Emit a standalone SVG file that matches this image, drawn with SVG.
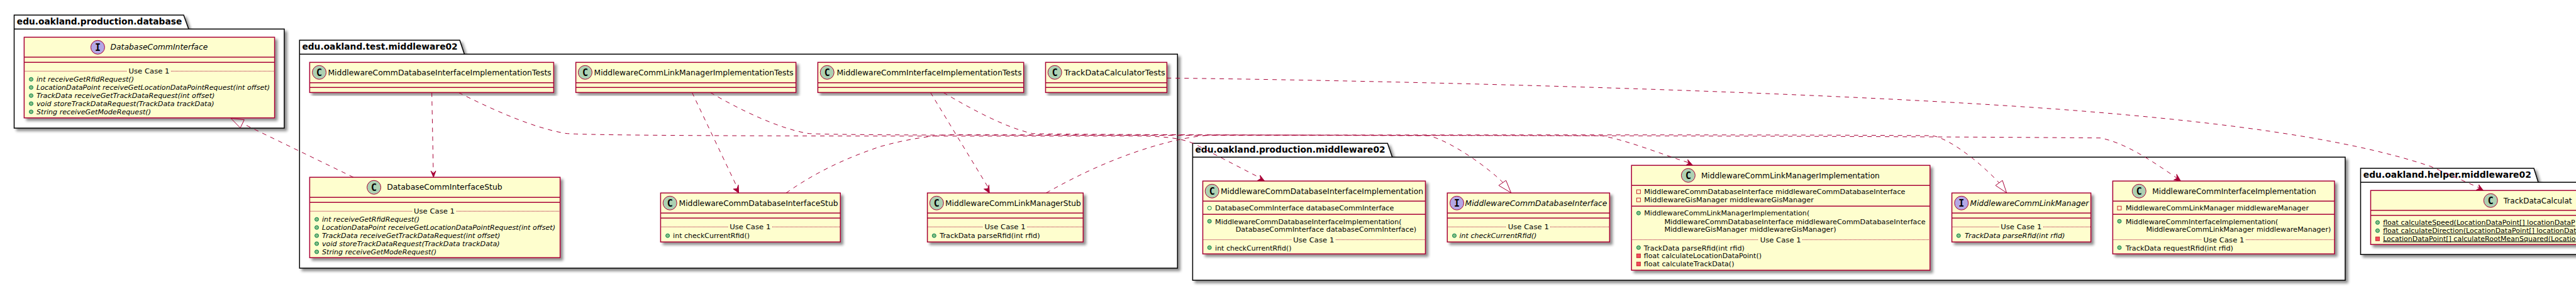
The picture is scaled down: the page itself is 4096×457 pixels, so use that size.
<svg xmlns="http://www.w3.org/2000/svg" width="4096" height="457" viewBox="0 0 4096 457">
<defs>
<filter id="sh" x="-5%" y="-5%" width="110%" height="115%"><feGaussianBlur in="SourceAlpha" stdDeviation="2" result="b"/><feOffset in="b" dx="4" dy="4" result="o"/><feComponentTransfer in="o" result="g"><feFuncA type="linear" slope="0.45"/></feComponentTransfer><feMerge><feMergeNode in="g"/><feMergeNode in="SourceGraphic"/></feMerge></filter>
</defs>
<style>
text{font-family:"DejaVu Sans",sans-serif;fill:#000}
.p{font-size:14px;font-weight:700}
.t{font-size:12px}
.m{font-size:11px}
.i{font-style:italic}
.u{text-decoration:underline}
.pk{fill:#fff;stroke:#000;stroke-width:1.5;filter:url(#sh)}
.pl{fill:none;stroke:#000;stroke-width:1.5}
.b{fill:#FEFECE;stroke:#A80036;stroke-width:1.5;filter:url(#sh)}
.s{stroke:#A80036;stroke-width:1.5}
.d{stroke:#A80036;stroke-width:1;stroke-dasharray:1,1}
.cc{fill:#ADD1B2;stroke:#A80036;stroke-width:1}
.ci{fill:#B4A7E5;stroke:#A80036;stroke-width:1}
.l{font-family:"DejaVu Sans Mono","Liberation Mono",monospace;font-size:15px;font-weight:700;text-anchor:middle}
.g{fill:#84BE84;stroke:#038048;stroke-width:1}
.go{fill:none;stroke:#038048;stroke-width:1}
.r{fill:#F24D5C;stroke:#C82930;stroke-width:1}
.ro{fill:none;stroke:#C82930;stroke-width:1}
.c{fill:none;stroke:#A80036;stroke-width:1;stroke-dasharray:7,7}
.a{fill:#A80036;stroke:#A80036;stroke-width:1}
.o{fill:none;stroke:#A80036;stroke-width:1}
</style>
<g id="pkg-database"><path class="pk" d="M22.5,24H292L300,46.3H452V204H22.5Z"/><path class="pl" d="M22.5,46.3H300"/><text class="p" x="26.8" y="39" textLength="262.5" lengthAdjust="spacingAndGlyphs">edu.oakland.production.database</text></g>
<g id="pkg-test"><path class="pk" d="M476.3,64H731L738.4,86.3H1872.3V427H476.3Z"/><path class="pl" d="M476.3,86.3H738.4"/><text class="p" x="480.4" y="79" textLength="247.3" lengthAdjust="spacingAndGlyphs">edu.oakland.test.middleware02</text></g>
<g id="pkg-production"><path class="pk" d="M1896.4,228.3H2206.3L2213.8,250.3H3729V446.3H1896.4Z"/><path class="pl" d="M1896.4,250.3H2213.8"/><text class="p" x="1900.4" y="243" textLength="302.3" lengthAdjust="spacingAndGlyphs">edu.oakland.production.middleware02</text></g>
<g id="pkg-helper"><path class="pk" d="M3753.5,268H4029L4036,290.3H4120V405.3H3753.5Z"/><path class="pl" d="M3753.5,290.3H4036"/><text class="p" x="3757.7" y="283" textLength="267.2" lengthAdjust="spacingAndGlyphs">edu.oakland.helper.middleware02</text></g>

<g id="DatabaseCommInterface"><rect class="b" x="38.4" y="59.3" width="398.2" height="128.4"/><path class="s" d="M38.4,91H436.6M38.4,99.3H436.6"/><path class="d" d="M38.4,113.3H202M272,113.3H436.6"/><circle class="ci" cx="155.4" cy="75.3" r="11"/><text class="l" x="155.4" y="80.5">I</text><text class="t i" x="175.4" y="79" textLength="155" lengthAdjust="spacingAndGlyphs">DatabaseCommInterface</text><text class="m" x="204.5" y="117" textLength="65" lengthAdjust="spacingAndGlyphs">Use Case 1</text>
<circle class="g" cx="49.5" cy="126.3" r="3"/><text class="m i" x="58" y="130" textLength="155" lengthAdjust="spacingAndGlyphs">int receiveGetRfidRequest()</text>
<circle class="g" cx="49.5" cy="139.3" r="3"/><text class="m i" x="58" y="143" textLength="371" lengthAdjust="spacingAndGlyphs">LocationDataPoint receiveGetLocationDataPointRequest(int offset)</text>
<circle class="g" cx="49.5" cy="152.3" r="3"/><text class="m i" x="58" y="156" textLength="283.5" lengthAdjust="spacingAndGlyphs">TrackData receiveGetTrackDataRequest(int offset)</text>
<circle class="g" cx="49.5" cy="165" r="3"/><text class="m i" x="58" y="168.5" textLength="282.6" lengthAdjust="spacingAndGlyphs">void storeTrackDataRequest(TrackData trackData)</text>
<circle class="g" cx="49.5" cy="178" r="3"/><text class="m i" x="58" y="181.5" textLength="182" lengthAdjust="spacingAndGlyphs">String receiveGetModeRequest()</text></g>

<g id="MiddlewareCommDatabaseInterfaceImplementationTests"><rect class="b" x="492.4" y="99.3" width="388" height="48"/><path class="s" d="M492.4,131.7H880.4M492.4,139.3H880.4"/><circle class="cc" cx="507.6" cy="115.3" r="11"/><text class="l" x="507.6" y="120.5">C</text><text class="t" x="521.4" y="120" textLength="355.4" lengthAdjust="spacingAndGlyphs">MiddlewareCommDatabaseInterfaceImplementationTests</text></g>
<g id="MiddlewareCommLinkManagerImplementationTests"><rect class="b" x="915.6" y="99.3" width="350" height="48"/><path class="s" d="M915.6,131.7H1265.6M915.6,139.3H1265.6"/><circle class="cc" cx="930.4" cy="115.3" r="11"/><text class="l" x="930.4" y="120.5">C</text><text class="t" x="944.6" y="120" textLength="317" lengthAdjust="spacingAndGlyphs">MiddlewareCommLinkManagerImplementationTests</text></g>
<g id="MiddlewareCommInterfaceImplementationTests"><rect class="b" x="1300.4" y="99.3" width="327.3" height="48"/><path class="s" d="M1300.4,131.7H1627.7M1300.4,139.3H1627.7"/><circle class="cc" cx="1315.2" cy="115.3" r="11"/><text class="l" x="1315.2" y="120.5">C</text><text class="t" x="1330.4" y="120" textLength="294.2" lengthAdjust="spacingAndGlyphs">MiddlewareCommInterfaceImplementationTests</text></g>
<g id="TrackDataCalculatorTests"><rect class="b" x="1662.5" y="99.3" width="192.9" height="48"/><path class="s" d="M1662.5,131.7H1855.4M1662.5,139.3H1855.4"/><circle class="cc" cx="1677.2" cy="115.3" r="11"/><text class="l" x="1677.2" y="120.5">C</text><text class="t" x="1692" y="120" textLength="160.7" lengthAdjust="spacingAndGlyphs">TrackDataCalculatorTests</text></g>

<g id="DatabaseCommInterfaceStub"><rect class="b" x="492.4" y="282.3" width="398.2" height="128"/><path class="s" d="M492.4,314.3H890.6M492.4,322.3H890.6"/><path class="d" d="M492.4,336.3H656M726,336.3H890.6"/><circle class="cc" cx="594.6" cy="298.3" r="11"/><text class="l" x="594.6" y="303.5">C</text><text class="t" x="615.2" y="302" textLength="183.5" lengthAdjust="spacingAndGlyphs">DatabaseCommInterfaceStub</text><text class="m" x="658" y="340" textLength="65" lengthAdjust="spacingAndGlyphs">Use Case 1</text>
<circle class="g" cx="503.6" cy="349.3" r="3"/><text class="m i" x="512" y="353" textLength="155" lengthAdjust="spacingAndGlyphs">int receiveGetRfidRequest()</text>
<circle class="g" cx="503.6" cy="362.3" r="3"/><text class="m i" x="512" y="366" textLength="371" lengthAdjust="spacingAndGlyphs">LocationDataPoint receiveGetLocationDataPointRequest(int offset)</text>
<circle class="g" cx="503.6" cy="375.3" r="3"/><text class="m i" x="512" y="379" textLength="283.5" lengthAdjust="spacingAndGlyphs">TrackData receiveGetTrackDataRequest(int offset)</text>
<circle class="g" cx="503.6" cy="388" r="3"/><text class="m i" x="512" y="391.5" textLength="282.6" lengthAdjust="spacingAndGlyphs">void storeTrackDataRequest(TrackData trackData)</text>
<circle class="g" cx="503.6" cy="401" r="3"/><text class="m i" x="512" y="404.5" textLength="182" lengthAdjust="spacingAndGlyphs">String receiveGetModeRequest()</text></g>

<g id="MiddlewareCommDatabaseInterfaceStub"><rect class="b" x="1050.4" y="307.3" width="285.8" height="78"/><path class="s" d="M1050.4,339.3H1336.2M1050.4,347.3H1336.2"/><path class="d" d="M1050.4,361.3H1158M1228,361.3H1336.2"/><circle class="cc" cx="1065.2" cy="323.3" r="11"/><text class="l" x="1065.2" y="328.5">C</text><text class="t" x="1079.5" y="328" textLength="253.1" lengthAdjust="spacingAndGlyphs">MiddlewareCommDatabaseInterfaceStub</text><text class="m" x="1160.3" y="365" textLength="65" lengthAdjust="spacingAndGlyphs">Use Case 1</text>
<circle class="g" cx="1061.6" cy="375.3" r="3"/><text class="m" x="1070.1" y="379" textLength="121.9" lengthAdjust="spacingAndGlyphs">int checkCurrentRfid()</text></g>

<g id="MiddlewareCommLinkManagerStub"><rect class="b" x="1474.6" y="307.3" width="247.7" height="78"/><path class="s" d="M1474.6,339.3H1722.3M1474.6,347.3H1722.3"/><path class="d" d="M1474.6,361.3H1563M1633,361.3H1722.3"/><circle class="cc" cx="1489.3" cy="323.3" r="11"/><text class="l" x="1489.3" y="328.5">C</text><text class="t" x="1503.1" y="328" textLength="215.7" lengthAdjust="spacingAndGlyphs">MiddlewareCommLinkManagerStub</text><text class="m" x="1565.6" y="365" textLength="65" lengthAdjust="spacingAndGlyphs">Use Case 1</text>
<circle class="g" cx="1485.3" cy="375.3" r="3"/><text class="m" x="1494.2" y="379" textLength="159.4" lengthAdjust="spacingAndGlyphs">TrackData parseRfid(int rfid)</text></g>

<g id="MiddlewareCommDatabaseInterfaceImplementation"><rect class="b" x="1912.5" y="288.3" width="354" height="116"/><path class="s" d="M1912.5,320.3H2266.5M1912.5,341.3H2266.5"/><path class="d" d="M1912.5,381.7H2054M2124,381.7H2266.5"/><circle class="cc" cx="1927.2" cy="304.3" r="11"/><text class="l" x="1927.2" y="309.5">C</text><text class="t" x="1941" y="309" textLength="322" lengthAdjust="spacingAndGlyphs">MiddlewareCommDatabaseInterfaceImplementation</text>
<circle class="go" cx="1923.2" cy="331.3" r="3"/><text class="m" x="1932.1" y="335.3" textLength="284.4" lengthAdjust="spacingAndGlyphs">DatabaseCommInterface databaseCommInterface</text>
<circle class="g" cx="1923.2" cy="352.3" r="3"/><text class="m" x="1932.1" y="356.5" textLength="296.5" lengthAdjust="spacingAndGlyphs">MiddlewareCommDatabaseInterfaceImplementation(</text><text class="m" x="1964.7" y="368.8" textLength="287.5" lengthAdjust="spacingAndGlyphs">DatabaseCommInterface databaseCommInterface)</text>
<text class="m" x="2056.3" y="385.5" textLength="65" lengthAdjust="spacingAndGlyphs">Use Case 1</text>
<circle class="g" cx="1923.2" cy="394.3" r="3"/><text class="m" x="1932.1" y="398.5" textLength="121.5" lengthAdjust="spacingAndGlyphs">int checkCurrentRfid()</text></g>

<g id="MiddlewareCommDatabaseInterface"><rect class="b" x="2301.3" y="307.3" width="258.1" height="78"/><path class="s" d="M2301.3,339.3H2559.4M2301.3,347.3H2559.4"/><path class="d" d="M2301.3,361.3H2395M2465,361.3H2559.4"/><circle class="ci" cx="2316.5" cy="323.3" r="11"/><text class="l" x="2316.5" y="328.5">I</text><text class="t i" x="2329.5" y="328" textLength="225.9" lengthAdjust="spacingAndGlyphs">MiddlewareCommDatabaseInterface</text><text class="m" x="2397.8" y="365" textLength="65" lengthAdjust="spacingAndGlyphs">Use Case 1</text>
<circle class="g" cx="2312.5" cy="375.3" r="3"/><text class="m i" x="2320.5" y="379" textLength="122.8" lengthAdjust="spacingAndGlyphs">int checkCurrentRfid()</text></g>

<g id="MiddlewareCommLinkManagerImplementation"><rect class="b" x="2594.2" y="263.3" width="474.6" height="167"/><path class="s" d="M2594.2,295.3H3068.8M2594.2,328.3H3068.8"/><path class="d" d="M2594.2,381.7H2796M2866,381.7H3068.8"/><circle class="cc" cx="2684.4" cy="279.3" r="11"/><text class="l" x="2684.4" y="284.5">C</text><text class="t" x="2704.9" y="284" textLength="283.9" lengthAdjust="spacingAndGlyphs">MiddlewareCommLinkManagerImplementation</text>
<rect class="ro" x="2602.4" y="302.3" width="6" height="6"/><text class="m" x="2614.3" y="309.3" textLength="415.2" lengthAdjust="spacingAndGlyphs">MiddlewareCommDatabaseInterface middlewareCommDatabaseInterface</text>
<rect class="ro" x="2602.4" y="315.3" width="6" height="6"/><text class="m" x="2614.3" y="322.3" textLength="269.6" lengthAdjust="spacingAndGlyphs">MiddlewareGisManager middlewareGisManager</text>
<circle class="g" cx="2605.4" cy="339.3" r="3"/><text class="m" x="2614.3" y="343.3" textLength="262.9" lengthAdjust="spacingAndGlyphs">MiddlewareCommLinkManagerImplementation(</text><text class="m" x="2646.4" y="356.5" textLength="415.2" lengthAdjust="spacingAndGlyphs">MiddlewareCommDatabaseInterface middlewareCommDatabaseInterface</text><text class="m" x="2646.4" y="368.8" textLength="273.2" lengthAdjust="spacingAndGlyphs">MiddlewareGisManager middlewareGisManager)</text>
<text class="m" x="2798.7" y="385.5" textLength="65" lengthAdjust="spacingAndGlyphs">Use Case 1</text>
<circle class="g" cx="2605.4" cy="394.3" r="3"/><text class="m" x="2613.8" y="398.5" textLength="160.2" lengthAdjust="spacingAndGlyphs">TrackData parseRfid(int rfid)</text>
<rect class="r" x="2602.4" y="404.3" width="6" height="6"/><text class="m" x="2613.8" y="411.3" textLength="187.2" lengthAdjust="spacingAndGlyphs">float calculateLocationDataPoint()</text>
<rect class="r" x="2602.4" y="417.3" width="6" height="6"/><text class="m" x="2613.8" y="424" textLength="143.8" lengthAdjust="spacingAndGlyphs">float calculateTrackData()</text></g>

<g id="MiddlewareCommLinkManager"><rect class="b" x="3103.6" y="307.3" width="221" height="78"/><path class="s" d="M3103.6,339.3H3324.6M3103.6,347.3H3324.6"/><path class="d" d="M3103.6,361.3H3179M3249,361.3H3324.6"/><circle class="ci" cx="3118.8" cy="323.3" r="11"/><text class="l" x="3118.8" y="328.5">I</text><text class="t i" x="3132.6" y="328" textLength="188.8" lengthAdjust="spacingAndGlyphs">MiddlewareCommLinkManager</text><text class="m" x="3181.3" y="365" textLength="65" lengthAdjust="spacingAndGlyphs">Use Case 1</text>
<circle class="g" cx="3114.3" cy="375.3" r="3"/><text class="m i" x="3124.1" y="379" textLength="159.4" lengthAdjust="spacingAndGlyphs">TrackData parseRfid(int rfid)</text></g>

<g id="MiddlewareCommInterfaceImplementation"><rect class="b" x="3359.4" y="288.3" width="352.6" height="116"/><path class="s" d="M3359.4,320.3H3712M3359.4,341.3H3712"/><path class="d" d="M3359.4,381.7H3501M3571,381.7H3712"/><circle class="cc" cx="3401.3" cy="304.3" r="11"/><text class="l" x="3401.3" y="309.5">C</text><text class="t" x="3422.3" y="309" textLength="260.5" lengthAdjust="spacingAndGlyphs">MiddlewareCommInterfaceImplementation</text>
<rect class="ro" x="3367" y="328.3" width="6" height="6"/><text class="m" x="3379.9" y="335.3" textLength="291.1" lengthAdjust="spacingAndGlyphs">MiddlewareCommLinkManager middlewareManager</text>
<circle class="g" cx="3370" cy="352.3" r="3"/><text class="m" x="3379.9" y="356.5" textLength="242.5" lengthAdjust="spacingAndGlyphs">MiddlewareCommInterfaceImplementation(</text><text class="m" x="3412.5" y="368.8" textLength="293.9" lengthAdjust="spacingAndGlyphs">MiddlewareCommLinkManager middlewareManager)</text>
<text class="m" x="3503.4" y="385.5" textLength="65" lengthAdjust="spacingAndGlyphs">Use Case 1</text>
<circle class="g" cx="3370" cy="394.3" r="3"/><text class="m" x="3379.9" y="398.5" textLength="171.1" lengthAdjust="spacingAndGlyphs">TrackData requestRfid(int rfid)</text></g>

<g id="TrackDataCalculator"><rect class="b" x="3769.5" y="303.3" width="350" height="86"/><path class="s" d="M3769.5,335H4119M3769.5,343H4119"/><circle class="cc" cx="3960.3" cy="319.3" r="11"/><text class="l" x="3960.3" y="324.5">C</text><text class="t" x="3980.8" y="324">TrackDataCalculat</text>
<circle class="g" cx="3780.5" cy="354.3" r="3"/><text class="m u" x="3789.2" y="358.3">float calculateSpeed(LocationDataPoint[] locationDataP</text>
<circle class="g" cx="3780.5" cy="367.3" r="3"/><text class="m u" x="3789.2" y="371">float calculateDirection(LocationDataPoint[] locationDat</text>
<rect class="r" x="3777.5" y="377.3" width="6" height="6"/><text class="m u" x="3789.2" y="383.5">LocationDataPoint[] calculateRootMeanSquared(Locatio</text></g>

<g id="connectors">
<path class="c" d="M562,282.3L385.7,196.7"/><path class="o" d="M367,188.3L388.4,190.7L382.1,203.7Z"/>
<path class="c" d="M686.6,147.3L689,274"/><path class="a" d="M689.3,282.3L685,272L689.2,276L693,272Z"/>
<path class="c" d="M729,147.3C790,178 850,204 900,212.5C945,217 1500,217 1800,216.5C1850,216.5 1880,220 1900,229.5L2005,284"/><path class="a" d="M2010.7,288.3L1999.5,287.5L2004.5,284.5L2003.5,279Z"/>
<path class="c" d="M1100.4,147.3L1172,298"/><path class="a" d="M1174.6,307.3L1166,301L1171.8,300.5L1174,294.5Z"/>
<path class="c" d="M1129.5,147.3C1180,177 1240,205 1285,212.5C1330,217 2100,215 2546,216C2590,224 2640,245 2685,259"/><path class="a" d="M2691.5,263.3L2680.5,263.5L2685,259.8L2683.5,254Z"/>
<path class="c" d="M1479.5,147.3L1571,298"/><path class="a" d="M1573.2,307.3L1564.5,301L1570.5,300.5L1572.5,294.5Z"/>
<path class="c" d="M1500,147.3C1550,177 1600,203 1641,212.5C1690,216 2800,215 3340,219.7C3380,228 3420,255 3462,284"/><path class="a" d="M3467.4,288.3L3456.5,286.5L3461.5,283.8L3461,277.5Z"/>
<path class="c" d="M1855.4,124.3C2200,128 2900,145 3300,176C3500,192 3720,216 3865,265L3942,299"/><path class="a" d="M3948.5,303.3L3937.5,302.5L3942.5,299.5L3941.5,294Z"/>
<path class="c" d="M1250,307.3C1300,272 1350,250 1400,233.3C1440,222 1480,216 1510,214.5C1800,215 2050,215 2272,216C2310,226 2370,270 2390,291"/><path class="o" d="M2402.7,307L2383,295.3L2394.6,287.3Z"/>
<path class="c" d="M1663.4,307.3C1750,258 1820,235 1873,222.7C1890,219 1910,216 1925,215C2400,215 2800,214 3072,216C3100,220 3150,260 3178.6,291"/><path class="o" d="M3190.6,307L3173,295.3L3184,287.3Z"/>
</g>
</svg>
